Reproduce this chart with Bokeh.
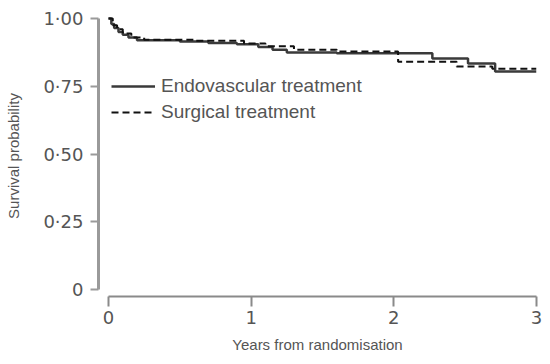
from bokeh.plotting import figure
from bokeh.models import Range1d, FixedTicker, CustomJSTickFormatter, Legend, LegendItem
from bokeh.embed import file_html
from bokeh.resources import INLINE

# Kaplan-Meier step data (years from randomisation, survival probability)
endo_t = [0, 0.02, 0.04, 0.07, 0.10, 0.14, 0.20, 0.50, 0.70, 0.90, 1.05, 1.15, 1.25, 1.60, 2.27, 2.52, 2.71, 3.0]
endo_s = [1.0, 0.98, 0.965, 0.95, 0.94, 0.93, 0.92, 0.915, 0.91, 0.905, 0.895, 0.885, 0.875, 0.872, 0.852, 0.834, 0.804, 0.804]

surg_t = [0, 0.03, 0.06, 0.10, 0.16, 0.25, 0.60, 0.95, 1.10, 1.30, 1.60, 2.03, 2.44, 2.69, 3.0]
surg_s = [1.0, 0.975, 0.96, 0.945, 0.93, 0.922, 0.918, 0.908, 0.898, 0.885, 0.878, 0.84, 0.823, 0.815, 0.815]

y_ticks = [0, 0.25, 0.5, 0.75, 1.0]
x_ticks = [0, 1, 2, 3]
series_labels = ["Endovascular treatment", "Surgical treatment"]

FONT = "Liberation Sans"
GREY = "#555555"
AXIS_GREY = "#9a9a9a"

p = figure(frame_width=438, frame_height=281, output_backend="svg", toolbar_location=None,
           min_border_left=98, min_border_right=6, min_border_top=15, min_border_bottom=56,
           x_range=Range1d(-10 / 142.7, 3.0), y_range=Range1d(-7 / 271, 1 + 3 / 271))
p.outline_line_color = None
p.grid.visible = False
p.background_fill_color = "white"

r_endo = p.step(endo_t, endo_s, mode="after", line_color="#3a3a3a", line_width=2.5)
r_surg = p.step(surg_t, surg_s, mode="after", line_color="#111111", line_width=2, line_dash="7 4")

# y axis
ya = p.yaxis[0]
ya.bounds = (0, 1)
ya.ticker = FixedTicker(ticks=y_ticks)
ya.formatter = CustomJSTickFormatter(code="return tick == 0 ? '0' : tick.toFixed(2).replace('.', '\u00b7');")
ya.axis_line_color = AXIS_GREY
ya.axis_line_width = 3
ya.major_tick_line_color = AXIS_GREY
ya.major_tick_line_width = 2
ya.major_tick_out = 8
ya.major_tick_in = 0
ya.minor_tick_line_color = None
ya.major_label_standoff = 7
ya.major_label_text_font = "DejaVu Sans"
ya.major_label_text_font_size = "18px"
ya.major_label_text_color = GREY
ya.axis_label = "Survival probability"
ya.axis_label_text_font = FONT
ya.axis_label_text_font_size = "15px"
ya.axis_label_text_font_style = "normal"
ya.axis_label_text_color = GREY
ya.axis_label_standoff = 18

# x axis
xa = p.xaxis[0]
xa.bounds = (0, 3)
xa.ticker = FixedTicker(ticks=x_ticks)
xa.axis_line_color = "#8a8a8a"
xa.axis_line_width = 2
xa.major_tick_line_color = "#8a8a8a"
xa.major_tick_line_width = 2
xa.major_tick_out = 10
xa.major_tick_in = 0
xa.minor_tick_line_color = None
xa.major_label_standoff = 4
xa.major_label_text_font = "DejaVu Sans"
xa.major_label_text_font_size = "18px"
xa.major_label_text_color = GREY
xa.axis_label = "Years from randomisation"
xa.axis_label_text_font = FONT
xa.axis_label_text_font_size = "15px"
xa.axis_label_text_font_style = "normal"
xa.axis_label_text_color = GREY
xa.axis_label_standoff = 9

legend = Legend(items=[LegendItem(label=series_labels[0], renderers=[r_endo]),
                       LegendItem(label=series_labels[1], renderers=[r_surg])],
                location=(13, 173), padding=0, margin=0, spacing=4,
                glyph_width=44, glyph_height=20, label_height=20, label_standoff=6,
                border_line_color=None, background_fill_alpha=0,
                label_text_font=FONT, label_text_font_size="19px", label_text_color=GREY)
p.add_layout(legend)

open("out.html", "w").write(file_html(p, INLINE))
